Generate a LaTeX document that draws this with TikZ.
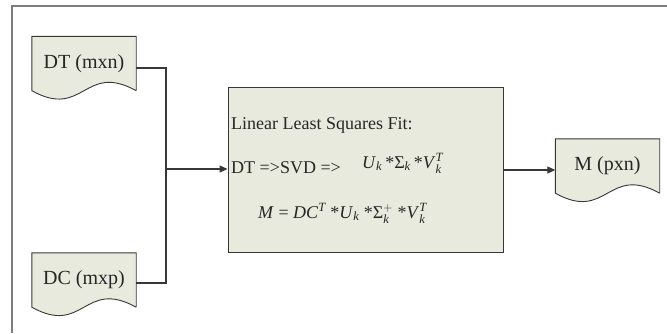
\documentclass[tikz,border=0pt]{standalone}
\usepackage{amsmath}
\usepackage{fontspec}
\setmainfont{Liberation Serif}
\usetikzlibrary{arrows.meta,calc}
\definecolor{docfill}{RGB}{233,234,222}
\definecolor{framegray}{RGB}{125,125,125}
\definecolor{linegray}{RGB}{55,55,55}
\pgfdeclarelayer{bg}
\pgfsetlayers{bg,main}
\newcommand{\docoutline}[1]{%
  \filldraw[docshape] (#1.south east) -- (#1.north east) -- (#1.north west) -- (#1.south west)
    .. controls ($(#1.south)+(0,-29pt)$) and ($(#1.south)+(0,29pt)$) .. (#1.south east);}
\tikzset{
  docnode/.style={rectangle, minimum width=104pt, minimum height=54pt, inner sep=0pt,
    font=\fontsize{20}{24}\selectfont, text=black!85},
  docshape/.style={fill=docfill, draw=linegray, line width=0.9pt},
  mainbox/.style={rectangle, fill=docfill, draw=linegray, line width=0.9pt, inner sep=0pt},
  maintext/.style={anchor=base west, inner sep=0pt, font=\fontsize{18}{22}\selectfont, text=black!85},
  mathtext/.style={anchor=base west, inner sep=0pt, font=\fontsize{18}{22}\selectfont, text=black!85},
  conn/.style={draw=linegray, line width=1.1pt},
  arrowconn/.style={conn, -{Triangle[length=8pt,width=7pt]}},
  frameline/.style={draw=framegray, line width=1.6pt}
}
\begin{document}
\begin{tikzpicture}[x=1pt, y=-1pt]
\useasboundingbox (0,0) rectangle (667,333);
\draw[frameline] (12,333) -- (12,6) -- (667,6);

\node[docnode] (dt) at (84,63.5) {DT (mxn)};
\node[docnode] (dc) at (84,280) {DC (mxp)};
\node[docnode] (m) at (607.5,166) {M (pxn)};
\begin{pgfonlayer}{bg}
  \docoutline{dt}
  \docoutline{dc}
  \docoutline{m}
\end{pgfonlayer}

\node[mainbox, minimum width=275pt, minimum height=165pt] (box) at (365.5,169.5) {};
\node[maintext] (t1) at (231,129) {Linear Least Squares Fit:};
\node[maintext] (t2) at (231,173.5) {DT =>SVD =>};
\node[mathtext] (f1) at (362,168) {\textit{U}$_{\textit{k}}$\,*Σ$_{\textit{k}}$\,*\textit{V}$_{\textit{k}}^{\textit{T}}$};
\node[mathtext] (f2) at (258,218) {\textit{M} = \textit{DC}$^{\textit{T}}$ *\textit{U}$_{\textit{k}}$ *Σ$_{\textit{k}}^{+}$ *\textit{V}$_{\textit{k}}^{\textit{T}}$};

\coordinate (bus) at (166,169);
\draw[conn] ([yshift=-4.5pt]dt.east) -| (bus) |- ([yshift=-3pt]dc.east);
\draw[arrowconn] (bus) -- (bus -| box.west);
\draw[arrowconn] (box.east |- 0,170) -- (m.west |- 0,170);
\end{tikzpicture}
\end{document}
